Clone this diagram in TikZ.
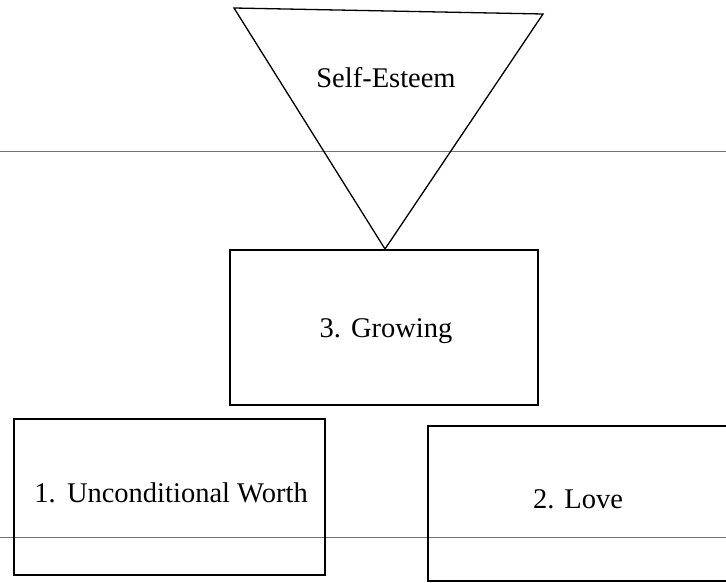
\documentclass[tikz,border=0pt]{standalone}
\usepackage{fontspec}
\setmainfont{Liberation Serif}
\begin{document}
\begin{tikzpicture}[x=1pt,y=-1pt,
  boxnode/.style={draw=black,line width=1.6pt,rectangle,inner sep=0pt},
  lbl/.style={inner sep=0pt,font=\fontsize{28.5}{32}\selectfont},
  rule/.style={draw=black!55,line width=1pt},
  tri/.style={draw=black,line width=1.3pt,line join=miter}]
\useasboundingbox (0,0) rectangle (726,583);
\fill[white] (0,0) rectangle (726,583);
% ruled lines
\coordinate (r1a) at (0,152); \coordinate (r1b) at (726,152);
\coordinate (r2a) at (0,537); \coordinate (r2b) at (726,537);
\draw[rule] (r1a) -- (r1b);
\draw[rule] (r2a) -- (r2b);
% triangle
\coordinate (tl) at (234,8);
\coordinate (tr) at (543,14);
\coordinate (apex) at (385,249);
\draw[tri] (tl) -- (tr) -- (apex) -- cycle;
\node[lbl] (se) at (386,78) {Self-Esteem};
% boxes
\node[boxnode,minimum width=308pt,minimum height=155pt] (grow) at (384,327.5) {};
\node[boxnode,minimum width=311pt,minimum height=156pt] (uw) at (169.5,497) {};
\node[boxnode,minimum width=302pt,minimum height=155pt] (love) at (579,503.5) {};
% labels
\node[lbl] (growt) at (386,331) {3.\hspace{0.35em}Growing};
\node[lbl] (uwt) at (171,493) {1.\hspace{0.4em}Unconditional Worth};
\node[lbl] (lovet) at (578,499) {2.\hspace{0.35em}Love};
\end{tikzpicture}
\end{document}
